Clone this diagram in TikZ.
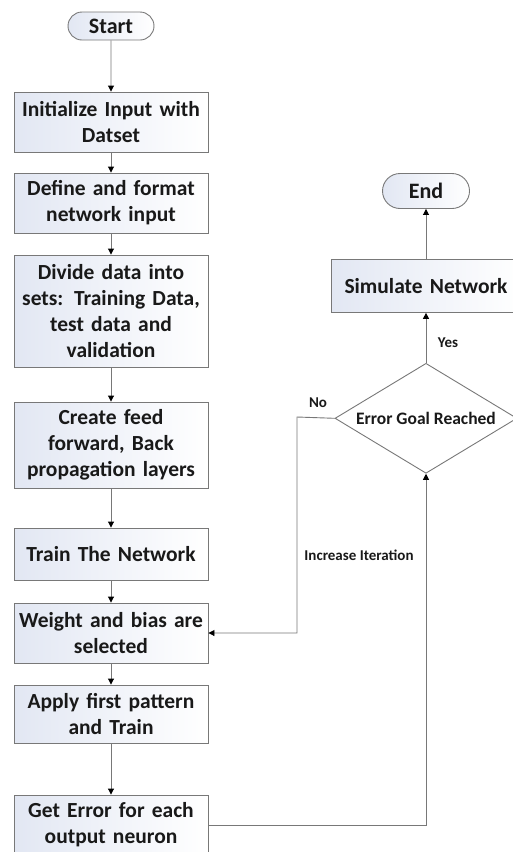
\documentclass[tikz,border=0pt]{standalone}
\usepackage{fontspec}
\setmainfont{Carlito}
\usepackage{tikz}
\usetikzlibrary{arrows.meta,positioning,shapes.geometric,shapes.misc}
\definecolor{boxfill}{RGB}{226,231,243}
\definecolor{linegray}{RGB}{120,120,120}
\definecolor{inkdark}{RGB}{25,25,25}

\tikzset{
  stepbox/.style={draw=linegray, line width=0.9pt, left color=boxfill, right color=white,
    text width=192pt, inner xsep=1pt, inner ysep=2pt, align=center, text=inkdark,
    font=\bfseries\fontsize{21.5}{26}\selectfont},
  termbox/.style={draw=linegray, line width=0.9pt, rounded rectangle, left color=boxfill, right color=white,
    inner sep=1pt, text=inkdark, font=\bfseries\fontsize{22}{24}\selectfont},
  decbox/.style={draw=linegray, line width=0.9pt, diamond, aspect=1.65, inner sep=0pt,
    fill=white, text=inkdark, minimum width=182pt, minimum height=110pt,
    font=\bfseries\fontsize{17.5}{20}\selectfont},
  flow/.style={draw=linegray, line width=0.9pt, -{Triangle[color=black, length=6pt, width=6pt]}},
  tag/.style={text=inkdark, font=\bfseries\fontsize{15}{17}\selectfont}
}

\begin{document}
\begin{tikzpicture}[x=1pt, y=1pt]
  \useasboundingbox (0,0) rectangle (512,-852);

  % main column
  \node[termbox, minimum width=88pt, minimum height=28pt] (start) at (111,-26) {Start};
  \node[stepbox, minimum height=60pt] (init) at (111,-122) {Initialize Input with\\ Datset};
  \node[stepbox, minimum height=60pt] (define) at (111,-203) {Define and format\\ network input};
  \node[stepbox, minimum height=112pt] (divide) at (111,-311) {Divide data into\\ sets: Training Data,\\ test data and\\ validation};
  \node[stepbox, minimum height=86pt] (create) at (111,-445) {Create feed\\ forward, Back\\ propagation layers};
  \node[stepbox, minimum height=52pt] (train) at (111,-554) {Train The Network};
  \node[stepbox, minimum height=60pt] (weight) at (111,-633) {Weight and bias are\\ selected};
  \node[stepbox, minimum height=58pt] (apply) at (111,-714) {Apply first pattern\\ and Train};
  \node[stepbox, minimum height=60pt] (err) at (111,-825) {Get Error for each\\ output neuron};

  % right column
  \node[termbox, minimum width=89pt, minimum height=35pt] (end) at (426,-191) {End};
  \node[stepbox, text width=188pt, minimum height=53pt, below=50pt of end] (sim) {Simulate Network};
  \node[decbox, below=50pt of sim] (goal) {Error Goal Reached};
  \coordinate (nobend) at (297,-417);

  % connectors
  \draw[flow] (start) -- (init);
  \draw[flow] (init) -- (define);
  \draw[flow] (define) -- (divide);
  \draw[flow] (divide) -- (create);
  \draw[flow] (create) -- (train);
  \draw[flow] (train) -- (weight);
  \draw[flow] (weight) -- (apply);
  \draw[flow] (apply) -- (err);
  \draw[flow] (err.east) -| (goal.south);
  \draw[flow] (goal.west) -- (nobend) |- (weight.east);
  \draw[flow] (goal.north) -- (sim.south);
  \draw[flow] (sim.north) -- (end.south);

  % labels
  \node[tag] (nolbl) at (318,-403) {No};
  \node[tag] (yeslbl) at (448,-343) {Yes};
  \node[tag] (itlbl) at (359,-555) {Increase Iteration};
\end{tikzpicture}
\end{document}
